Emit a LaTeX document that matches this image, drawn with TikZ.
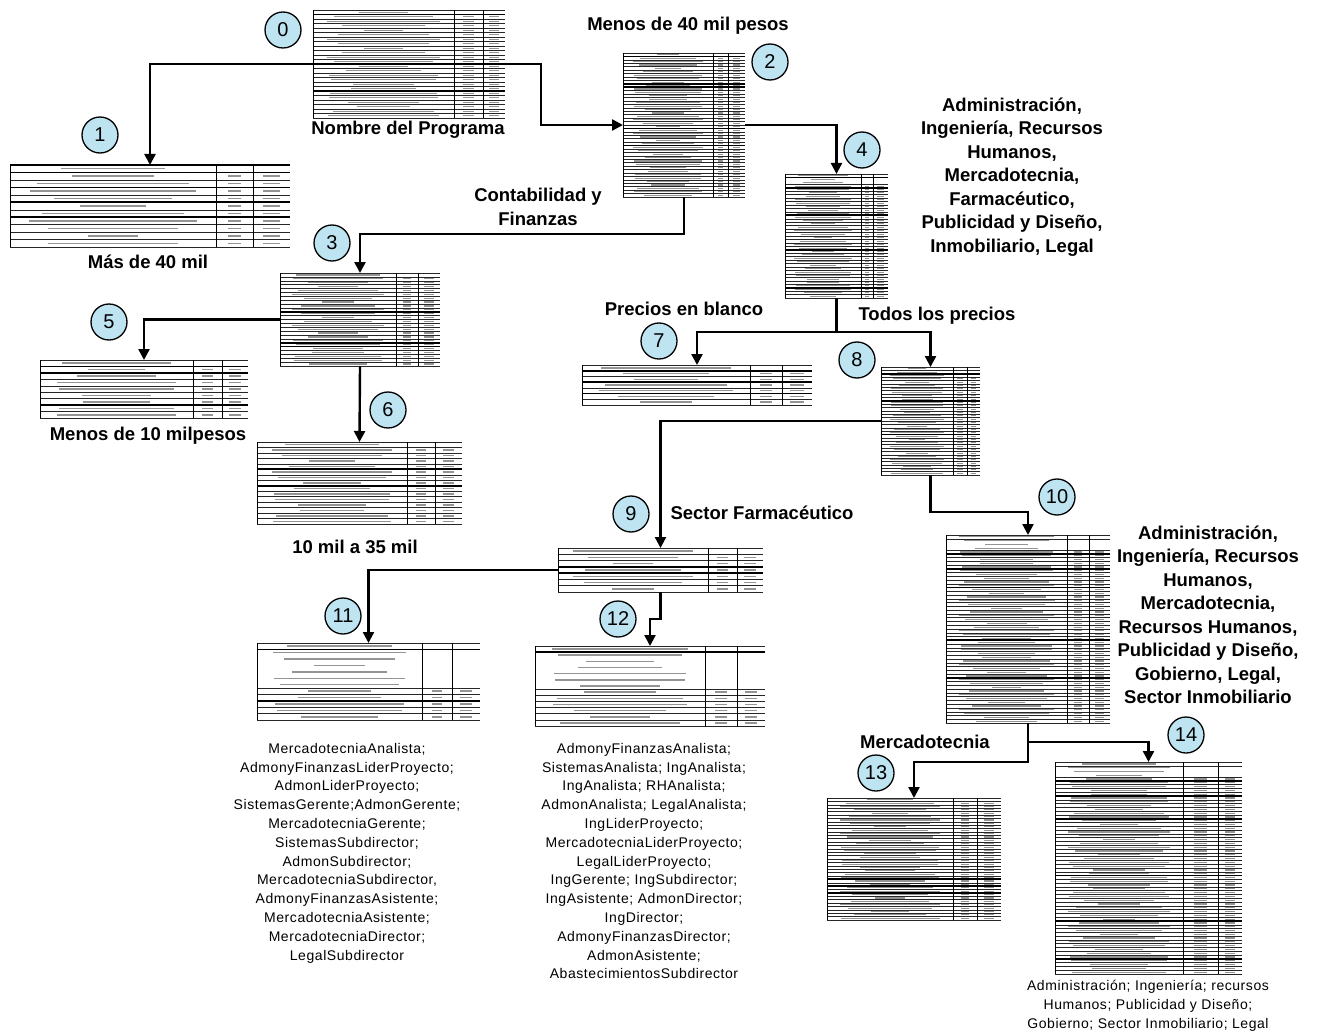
\documentclass[tikz,border=0pt]{standalone}
\usepackage{fontspec}
\setmainfont{Liberation Sans}
\newfontfamily\listfont[LetterSpace=4]{Liberation Sans}
\usetikzlibrary{arrows.meta,calc}

\definecolor{badgeblue}{RGB}{190,228,242}

% number of caption lines (without separators) in the next table
\newcommand{\tabcap}{0}

% \gtab{name}{left}{top}{right}{bottom}{col a}{col b}{rows}{heavy line indices}
\newcommand{\gtab}[9]{%
  \pgfmathsetmacro\tabW{#4-#2}%
  \pgfmathsetmacro\tabH{#5-#3}%
  \node[tabarea, minimum width=\tabW pt, minimum height=\tabH pt, anchor=north west] (#1) at (#2,#3) {};
  \pgfmathsetmacro\tabR{\tabH/#8}%
  \pgfmathsetmacro\tabB{min(\tabR*0.32,1.5)}%
  % row separators
  \foreach \k in {0,...,#8}{%
    \pgfmathtruncatemacro\tabSkipLine{((\k>1)&&(\k<=\tabcap)) ? 1 : 0}%
    \ifnum\tabSkipLine=0
      \draw[rowline] (#2,{#3+\k*\tabR}) -- (#4,{#3+\k*\tabR});
    \fi
  }
  % heavier group separators
  \foreach \k in {#9}{%
    \draw[heavyline] (#2,{#3+\k*\tabR}) -- (#4,{#3+\k*\tabR});
  }
  % column rules
  \draw[colline] (#2,#3) -- (#2,#5);
  \draw[colline] (#6,#3) -- (#6,#5);
  \draw[colline] (#7,#3) -- (#7,#5);
  % small print of each row
  \foreach \k in {1,...,#8}{%
    \pgfmathsetmacro\yc{#3+(\k-0.5)*\tabR}%
    \pgfmathsetmacro\xc{(#2+#6)/2}%
    \pgfmathsetmacro\hw{((#6-#2)/2-4)*(0.25+0.6*abs(sin(\k*137+#2*7)))}%
    \draw[textbar, line width=\tabB pt] ({\xc-\hw},\yc) -- ({\xc+\hw},\yc);
    \pgfmathtruncatemacro\tabNum{(\k>\tabcap+1) ? 1 : 0}%
    \ifnum\tabNum=1
      \pgfmathsetmacro\xa{(#6+#7)/2}%
      \pgfmathsetmacro\wa{(#7-#6)*0.18}%
      \pgfmathsetmacro\xb{(#7+#4)/2}%
      \pgfmathsetmacro\wb{(#4-#7)*0.22}%
      \draw[textbar, line width=\tabB pt] ({\xa-\wa},\yc) -- ({\xa+\wa},\yc);
      \draw[textbar, line width=\tabB pt] ({\xb-\wb},\yc) -- ({\xb+\wb},\yc);
    \fi
  }%
}

\begin{document}
\begin{tikzpicture}[x=1pt,y=-1pt,
  tabarea/.style={rectangle, inner sep=0pt, outer sep=0pt, fill=white},
  rowline/.style={line width=0.45pt, black!85},
  heavyline/.style={line width=1.7pt, black},
  colline/.style={line width=0.8pt, black},
  textbar/.style={black!42},
  conn/.style={line width=2.4pt, black},
  arr/.style={-{Triangle[length=11pt,width=11pt]}},
  badge/.style={circle, draw, line width=1.3pt, fill=badgeblue, minimum size=36pt,
    inner sep=0pt, font=\fontsize{20}{20}\selectfont},
  lbl/.style={font=\bfseries\fontsize{18.5}{23.5}\selectfont, align=center, inner sep=0pt},
  lst/.style={font=\listfont\fontsize{14}{18.8}\selectfont, align=center, inner sep=0pt}
]
\useasboundingbox (0,0) rectangle (1320,1035);

% ---------------- tables ----------------
\gtab{t0}{313}{10}{505}{118}{454}{483}{24}{1,12,18}
\gtab{t1}{10}{165}{290}{247}{216}{253}{11}{0,1,3,5,7}
\gtab{t2}{623}{53}{745}{197}{713}{728}{42}{1,9,10,22,27}
\gtab{t3}{280}{273}{440}{366}{396}{418}{24}{10,18,19}
\renewcommand{\tabcap}{2}
\gtab{t4}{785}{174}{888}{298}{861}{873}{36}{1,4,12,22,33}
\renewcommand{\tabcap}{0}
\gtab{t5}{40}{360}{248}{418}{193}{222}{9}{1,2,7}
\gtab{t6}{257}{442}{462}{524}{407}{435}{15}{5,8}
\gtab{t7}{582}{365}{812}{405}{750}{782}{7}{1,3,5}
\renewcommand{\tabcap}{2}
\gtab{t8}{881}{367}{980}{475}{953}{967}{32}{2,10,20}
\renewcommand{\tabcap}{0}
\gtab{t9}{558}{548}{763}{592}{708}{737}{7}{3,4}
\renewcommand{\tabcap}{3}
\gtab{t10}{946}{535}{1110}{723}{1067}{1089}{50}{5,9,14,28,38}
\renewcommand{\tabcap}{6}
\gtab{t11}{257}{643}{480}{720}{422}{452}{12}{1,9}
\gtab{t12}{535}{646}{765}{726}{705}{737}{13}{1}
\renewcommand{\tabcap}{0}
\gtab{t13}{827}{798}{1001}{920}{953}{977}{36}{24,26,28}
\renewcommand{\tabcap}{3}
\gtab{t14}{1055}{762}{1242}{974}{1183}{1218}{56}{5,9,15,30,42,52}

% ---------------- connectors ----------------
\draw[conn,arr] (t0.west) -| (t1.north);
\draw[conn,arr] (t0.east) -- ++(36,0) |- (t2.west);
\draw[conn,arr] (t2.east) -| (t4.north);
\draw[conn,arr] (t2.south) -- ++(0,37) -| (t3.north);
\draw[conn,arr] (t3.west) -| (t5.north);
\draw[conn,arr] (t3.south) -- (t6.north);
\draw[conn] (t4.south) -- ++(0,34) coordinate (j4);
\draw[conn,arr] (j4) -| (t7.north);
\draw[conn,arr] (j4) -| (t8.north);
\draw[conn,arr] (t8.west) -| (t9.north);
\draw[conn,arr] (t8.south) -- ++(0,37) -| (t10.north);
\draw[conn,arr] (t9.west) -| (t11.north);
\draw[conn,arr] (t9.south) -- ++(0,27) -| (t12.north);
\draw[conn,arr] (t10.south) -- ++(0,39) -| (t13.north);
\draw[conn,arr] (t10.south) ++(0,19) -| (t14.north);

% ---------------- numbered badges ----------------
\node[badge] (b0) at (283,30) {0};
\node[badge] (b1) at (100,135) {1};
\node[badge] (b2) at (770,62) {2};
\node[badge] (b3) at (332,243) {3};
\node[badge] (b4) at (862,150) {4};
\node[badge] (b5) at (109,322) {5};
\node[badge] (b6) at (388,410) {6};
\node[badge] (b7) at (659,341) {7};
\node[badge] (b8) at (857,360) {8};
\node[badge] (b9) at (631,514) {9};
\node[badge] (b10) at (1057,497) {10};
\node[badge] (b11) at (343,616) {11};
\node[badge] (b12) at (618,619) {12};
\node[badge] (b13) at (876,773) {13};
\node[badge] (b14) at (1186,735) {14};

% ---------------- branch labels ----------------
\node[lbl] (l0) at (408,130) {Nombre del Programa};
\node[lbl] (l1) at (148,262) {Más de 40 mil};
\node[lbl] (l2) at (688,26) {Menos de 40 mil pesos};
\node[lbl] (l3) at (538,207) {Contabilidad y\\Finanzas};
\node[lbl] (l4) at (1012,177) {Administración,\\Ingeniería, Recursos\\Humanos,\\Mercadotecnia,\\Farmacéutico,\\Publicidad y Diseño,\\Inmobiliario, Legal};
\node[lbl] (l5) at (148,436) {Menos de 10 milpesos};
\node[lbl] (l6) at (355,547) {10 mil a 35 mil};
\node[lbl] (l7) at (684,309) {Precios en blanco};
\node[lbl] (l8) at (937,316) {Todos los precios};
\node[lbl] (l9) at (762,513) {Sector Farmacéutico};
\node[lbl] (l10) at (1208,615) {Administración,\\Ingeniería, Recursos\\Humanos,\\Mercadotecnia,\\Recursos Humanos,\\Publicidad y Diseño,\\Gobierno, Legal,\\Sector Inmobiliario};
\node[lbl] (l13) at (925,742) {Mercadotecnia};

% ---------------- leaf lists ----------------
\node[lst] (s11) at (347,853) {MercadotecniaAnalista;\\AdmonyFinanzasLiderProyecto;\\AdmonLiderProyecto;\\SistemasGerente;AdmonGerente;\\MercadotecniaGerente;\\SistemasSubdirector;\\AdmonSubdirector;\\MercadotecniaSubdirector,\\AdmonyFinanzasAsistente;\\MercadotecniaAsistente;\\MercadotecniaDirector;\\LegalSubdirector};
\node[lst] (s12) at (644,861) {AdmonyFinanzasAnalista;\\SistemasAnalista; IngAnalista;\\IngAnalista; RHAnalista;\\AdmonAnalista; LegalAnalista;\\IngLiderProyecto;\\MercadotecniaLiderProyecto;\\LegalLiderProyecto;\\IngGerente; IngSubdirector;\\IngAsistente; AdmonDirector;\\IngDirector;\\AdmonyFinanzasDirector;\\AdmonAsistente;\\AbastecimientosSubdirector};
\node[lst] (s14) at (1148,1006) {Administración; Ingeniería; recursos\\Humanos; Publicidad y Diseño;\\Gobierno; Sector Inmobiliario; Legal};
\end{tikzpicture}
\end{document}
